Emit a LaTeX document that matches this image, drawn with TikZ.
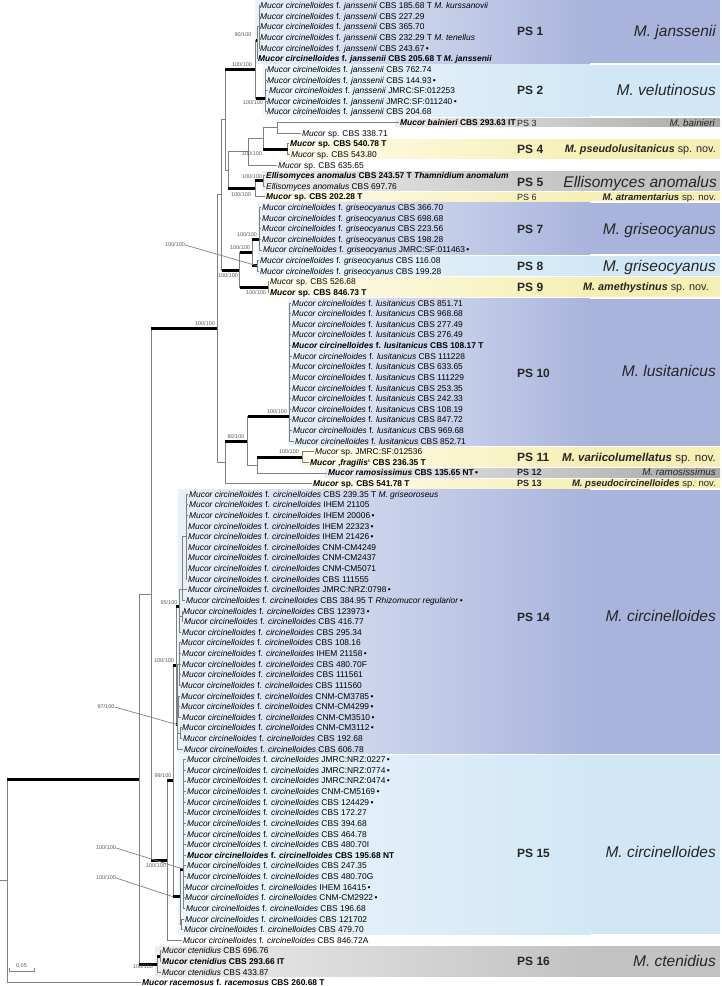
\documentclass[tikz,border=0pt]{standalone}
\usepackage{fontspec}
\setmainfont{Liberation Sans}

\definecolor{cladeDeep}{HTML}{A9B4DC}
\definecolor{cladeDeepLight}{HTML}{EAF0F9}
\definecolor{cladePale}{HTML}{D2E7F6}
\definecolor{cladePaleLight}{HTML}{EEF6FC}
\definecolor{cladeNew}{HTML}{F6EFB4}
\definecolor{cladeNewLight}{HTML}{FEFCEE}
\definecolor{cladeGrey}{HTML}{C2C2C2}
\definecolor{cladeGreyLight}{HTML}{EDEDED}
\definecolor{cladeGreyDark}{HTML}{A8A8A8}

% vertical position of taxon row #1 (row 0 at the top)
\newcommand{\ry}[1]{5.7+10.62*(#1)}
\newcommand{\taxonrow}[3]{\node[taxon] (t#1) at (#2,{\ry{#1}}) {#3};}
\newcommand{\mcj}{\textit{Mucor circinelloides} f. \textit{janssenii}}
\newcommand{\mcg}{\textit{Mucor circinelloides} f. \textit{griseocyanus}}
\newcommand{\mcl}{\textit{Mucor circinelloides} f. \textit{lusitanicus}}
\newcommand{\mcc}{\textit{Mucor circinelloides} f. \textit{circinelloides}}
\newcommand{\isodot}{\,\textbullet}
% band behind a clade: first row, last row, left x, light colour, full colour
\newcommand{\cladeband}[5]{%
  \shade[left color=#4, right color=#5] (#3,{\ry{#1}-4.5}) rectangle (590,{\ry{#2}+4.5});
  \fill[#5] (589.5,{\ry{#1}-4.5}) rectangle (720,{\ry{#2}+4.5});}
% single-row grey band darkening up to the right edge
\newcommand{\greyband}[2]{%
  \shade[left color=cladeGreyLight, right color=cladeGreyDark] (#2,{\ry{#1}-4.4}) rectangle (720,{\ry{#1}+4.4});}
% thin elbow plus thick supported stem
\newcommand{\stem}[2]{\draw[branch] (#1) |- (#2); \draw[strong] (#1 |- #2) -- (#2);}

\begin{document}
\begin{tikzpicture}[x=1pt, y=-1pt,
  taxon/.style={anchor=west, inner xsep=1pt, inner ysep=0pt, text height=6pt, text depth=0pt, font=\fontsize{8.4}{10}\selectfont},
  branch/.style={draw=black!50, line width=0.9pt},
  strong/.style={draw=black, line width=3pt},
  supp/.style={inner sep=0pt, text=black!65, font=\fontsize{5.5}{6}\selectfont},
  callout/.style={draw=black!50, line width=0.7pt},
  pslabel/.style={anchor=west, inner sep=0pt, text height=8.6pt, text depth=0pt, text=black!85, font=\bfseries\fontsize{12}{14}\selectfont},
  pssmall/.style={anchor=west, inner sep=0pt, text height=6.4pt, text depth=0pt, text=black!85, font=\fontsize{9}{10}\selectfont},
  spbig/.style={anchor=east, inner sep=0pt, text height=11.1pt, text depth=0pt, text=black!85, font=\itshape\fontsize{15.5}{18}\selectfont},
  spnov/.style={anchor=east, inner sep=0pt, text height=7.7pt, text depth=0pt, text=black!85, font=\fontsize{10.8}{12}\selectfont}]

\useasboundingbox (0,0) rectangle (721,986);

% Clade bands
\shade[left color=cladeDeepLight, right color=cladeDeep] (255,0) rectangle (590,{\ry{5}+4.5});
\fill[cladeDeep] (589.5,0) rectangle (720,{\ry{5}+4.5});
\cladeband{6}{10}{263}{cladePaleLight}{cladePale}
\greyband{11}{395}
\cladeband{13}{14}{285}{cladeNewLight}{cladeNew}
\cladeband{16}{17}{262}{cladeGreyLight}{cladeGrey}
\cladeband{18}{18}{262}{cladeNewLight}{cladeNew}
\cladeband{19}{23}{258}{cladeDeepLight}{cladeDeep}
\cladeband{24}{25}{256}{cladePaleLight}{cladePale}
\cladeband{26}{27}{266}{cladeNewLight}{cladeNew}
\cladeband{28}{41}{288}{cladeDeepLight}{cladeDeep}
\cladeband{42}{43}{300}{cladeNewLight}{cladeNew}
\greyband{44}{325}
\cladeband{45}{45}{310}{cladeNewLight}{cladeNew}
\cladeband{46}{70}{178}{cladeDeepLight}{cladeDeep}
\cladeband{71}{87}{178}{cladePaleLight}{cladePale}
\cladeband{89}{91}{155}{cladeGreyLight}{cladeGrey}

% Band labels
\node[pslabel] (ps1) at (517,31) {PS 1};
\node[spbig] (sp1) at (716,31) {M. janssenii};
\node[pslabel] (ps2) at (517,90) {PS 2};
\node[spbig] (sp2) at (716,90) {M. velutinosus};
\node[pssmall] (ps3) at (517,123) {PS 3};
\node[spnov, font=\itshape\fontsize{9.8}{11}\selectfont, text height=7pt] (sp3) at (715,123) {M. bainieri};
\node[pslabel] (ps4) at (517,149) {PS 4};
\node[spnov] (sp4) at (716,149) {\textbf{\textit{M. pseudolusitanicus}} sp. nov.};
\node[pslabel] (ps5) at (517,182) {PS 5};
\node[spbig] (sp5) at (717,182) {Ellisomyces anomalus};
\node[pssmall] (ps6) at (517,197) {PS 6};
\node[spnov, font=\fontsize{9.6}{11}\selectfont, text height=6.9pt] (sp6) at (716,197) {\textbf{\textit{M. atramentarius}} sp. nov.};
\node[pslabel] (ps7) at (517,229) {PS 7};
\node[spbig] (sp7) at (716,229) {M. griseocyanus};
\node[pslabel] (ps8) at (517,266) {PS 8};
\node[spbig] (sp8) at (716,266) {M. griseocyanus};
\node[pslabel] (ps9) at (517,287) {PS 9};
\node[spnov] (sp9) at (709,287) {\textbf{\textit{M. amethystinus}} sp. nov.};
\node[pslabel] (ps10) at (517,373) {PS 10};
\node[spbig] (sp10) at (716,371) {M. lusitanicus};
\node[pslabel] (ps11) at (517,457) {PS 11};
\node[spnov, font=\fontsize{11.5}{13}\selectfont, text height=8.2pt] (sp11) at (716,457) {\textbf{\textit{M. variicolumellatus}} sp. nov.};
\node[pssmall, font=\bfseries\fontsize{9}{10}\selectfont] (ps12) at (517,472) {PS 12};
\node[spnov, font=\itshape\fontsize{9.8}{11}\selectfont, text height=7pt] (sp12) at (716,472) {M. ramosissimus};
\node[pssmall, font=\bfseries\fontsize{9}{10}\selectfont] (ps13) at (517,483) {PS 13};
\node[spnov, font=\fontsize{9.5}{11}\selectfont, text height=6.8pt] (sp13) at (716,483) {\textbf{\textit{M. pseudocircinelloides}} sp. nov.};
\node[pslabel] (ps14) at (517,617) {PS 14};
\node[spbig] (sp14) at (716,616) {M. circinelloides};
\node[pslabel] (ps15) at (517,853) {PS 15};
\node[spbig] (sp15) at (716,852) {M. circinelloides};
\node[pslabel] (ps16) at (517,961) {PS 16};
\node[spbig] (sp16) at (716,961) {M. ctenidius};

% Taxa
\taxonrow{0}{259}{\mcj{} CBS 185.68 T \textit{M. kurssanovii}}
\taxonrow{1}{259}{\mcj{} CBS 227.29}
\taxonrow{2}{259}{\mcj{} CBS 365.70}
\taxonrow{3}{259}{\mcj{} CBS 232.29 T \textit{M. tenellus}}
\taxonrow{4}{259}{\mcj{} CBS 243.67\isodot}
\taxonrow{5}{257}{\bfseries\mcj{} CBS 205.68 T \textit{M. janssenii}}
\taxonrow{6}{266}{\mcj{} CBS 762.74}
\taxonrow{7}{266}{\mcj{} CBS 144.93\isodot}
\taxonrow{8}{268}{\mcj{} JMRC:SF:012253}
\taxonrow{9}{266}{\mcj{} JMRC:SF:011240\isodot}
\taxonrow{10}{266}{\mcj{} CBS 204.68}
\taxonrow{11}{399}{\bfseries\textit{Mucor bainieri} CBS 293.63 IT}
\taxonrow{12}{301}{\textit{Mucor} sp. CBS 338.71}
\taxonrow{13}{289}{\bfseries\textit{Mucor} sp. CBS 540.78 T}
\taxonrow{14}{290}{\textit{Mucor} sp. CBS 543.80}
\taxonrow{15}{277}{\textit{Mucor} sp. CBS 635.65}
\taxonrow{16}{265}{\bfseries\textit{Ellisomyces anomalus} CBS 243.57 T \textit{Thamnidium anomalum}}
\taxonrow{17}{265}{\textit{Ellisomyces anomalus} CBS 697.76}
\taxonrow{18}{265}{\bfseries\textit{Mucor} sp. CBS 202.28 T}
\taxonrow{19}{261}{\mcg{} CBS 366.70}
\taxonrow{20}{261}{\mcg{} CBS 698.68}
\taxonrow{21}{261}{\mcg{} CBS 223.56}
\taxonrow{22}{261}{\mcg{} CBS 198.28}
\taxonrow{23}{262}{\mcg{} JMRC:SF:011463\isodot}
\taxonrow{24}{259}{\mcg{} CBS 116.08}
\taxonrow{25}{259}{\mcg{} CBS 199.28}
\taxonrow{26}{269}{\textit{Mucor} sp. CBS 526.68}
\taxonrow{27}{269}{\bfseries\textit{Mucor} sp. CBS 846.73 T}
\taxonrow{28}{291}{\mcl{} CBS 851.71}
\taxonrow{29}{291}{\mcl{} CBS 968.68}
\taxonrow{30}{291}{\mcl{} CBS 277.49}
\taxonrow{31}{291}{\mcl{} CBS 276.49}
\taxonrow{32}{291}{\bfseries\mcl{} CBS 108.17 T}
\taxonrow{33}{292}{\mcl{} CBS 111228}
\taxonrow{34}{291}{\mcl{} CBS 633.65}
\taxonrow{35}{291}{\mcl{} CBS 111229}
\taxonrow{36}{291}{\mcl{} CBS 253.35}
\taxonrow{37}{291}{\mcl{} CBS 242.33}
\taxonrow{38}{291}{\mcl{} CBS 108.19}
\taxonrow{39}{291}{\mcl{} CBS 847.72}
\taxonrow{40}{292}{\mcl{} CBS 969.68}
\taxonrow{41}{294}{\mcl{} CBS 852.71}
\taxonrow{42}{314}{\textit{Mucor} sp. JMRC:SF:012536}
\taxonrow{43}{309}{\bfseries\textit{Mucor} ‚\textit{fragilis}‘ CBS 236.35 T}
\taxonrow{44}{327}{\bfseries\textit{Mucor ramosissimus} CBS 135.65 NT\isodot}
\taxonrow{45}{312}{\bfseries\textit{Mucor} sp. CBS 541.78 T}
\taxonrow{46}{188}{\mcc{} CBS 239.35 T \textit{M. griseoroseus}}
\taxonrow{47}{188}{\mcc{} IHEM 21105}
\taxonrow{48}{188}{\mcc{} IHEM 20006\isodot}
\taxonrow{49}{187}{\mcc{} IHEM 22323\isodot}
\taxonrow{50}{187}{\mcc{} IHEM 21426\isodot}
\taxonrow{51}{187}{\mcc{} CNM-CM4249}
\taxonrow{52}{187}{\mcc{} CNM-CM2437}
\taxonrow{53}{187}{\mcc{} CNM-CM5071}
\taxonrow{54}{187}{\mcc{} CBS 111555}
\taxonrow{55}{187}{\mcc{} JMRC:NRZ:0798\isodot}
\taxonrow{56}{185}{\mcc{} CBS 384.95 T \textit{Rhizomucor regularior}\isodot}
\taxonrow{57}{182}{\mcc{} CBS 123973\isodot}
\taxonrow{58}{183}{\mcc{} CBS 416.77}
\taxonrow{59}{181}{\mcc{} CBS 295.34}
\taxonrow{60}{180}{\mcc{} CBS 108.16}
\taxonrow{61}{181}{\mcc{} IHEM 21158\isodot}
\taxonrow{62}{181}{\mcc{} CBS 480.70F}
\taxonrow{63}{181}{\mcc{} CBS 111561}
\taxonrow{64}{180}{\mcc{} CBS 111560}
\taxonrow{65}{180}{\mcc{} CNM-CM3785\isodot}
\taxonrow{66}{180}{\mcc{} CNM-CM4299\isodot}
\taxonrow{67}{181}{\mcc{} CNM-CM3510\isodot}
\taxonrow{68}{181}{\mcc{} CNM-CM3112\isodot}
\taxonrow{69}{182}{\mcc{} CBS 192.68}
\taxonrow{70}{183}{\mcc{} CBS 606.78}
\taxonrow{71}{186}{\mcc{} JMRC:NRZ:0227\isodot}
\taxonrow{72}{186}{\mcc{} JMRC:NRZ:0774\isodot}
\taxonrow{73}{186}{\mcc{} JMRC:NRZ:0474\isodot}
\taxonrow{74}{186}{\mcc{} CNM-CM5169\isodot}
\taxonrow{75}{186}{\mcc{} CBS 124429\isodot}
\taxonrow{76}{186}{\mcc{} CBS 172.27}
\taxonrow{77}{186}{\mcc{} CBS 394.68}
\taxonrow{78}{186}{\mcc{} CBS 464.78}
\taxonrow{79}{186}{\mcc{} CBS 480.70I}
\taxonrow{80}{186}{\bfseries\mcc{} CBS 195.68 NT}
\taxonrow{81}{186}{\mcc{} CBS 247.35}
\taxonrow{82}{186}{\mcc{} CBS 480.70G}
\taxonrow{83}{184}{\mcc{} IHEM 16415\isodot}
\taxonrow{84}{184}{\mcc{} CNM-CM2922\isodot}
\taxonrow{85}{185}{\mcc{} CBS 196.68}
\taxonrow{86}{184}{\mcc{} CBS 121702}
\taxonrow{87}{183}{\mcc{} CBS 479.70}
\taxonrow{88}{182}{\mcc{} CBS 846.72A}
\taxonrow{89}{161}{\textit{Mucor ctenidius} CBS 696.76}
\taxonrow{90}{161}{\bfseries\textit{Mucor ctenidius} CBS 293.66 IT}
\taxonrow{91}{161}{\textit{Mucor ctenidius} CBS 433.87}
\taxonrow{92}{141}{\bfseries\textit{Mucor racemosus} f. \textit{racemosus} CBS 260.68 T}

% Internal nodes
\coordinate (nJa) at (259.5,{\ry{2}});
\coordinate (nPS1) at (257.5,{\ry{3.3}});
\coordinate (nPS2) at (265.5,{\ry{8.7}});
\coordinate (n256) at (255.5,{\ry{6}});
\coordinate (n277) at (277,{\ry{11.5}});
\coordinate (nPS4) at (287.5,{\ry{13.5}});
\coordinate (n263) at (263,{\ry{12.5}});
\coordinate (n248) at (248,{\ry{13.75}});
\coordinate (nEa) at (263.5,{\ry{16.5}});
\coordinate (nEll) at (255,{\ry{17.25}});
\coordinate (n228) at (228,{\ry{15.5}});
\coordinate (n225) at (225,{\ry{10.75}});
\coordinate (nPS7) at (259.5,{\ry{22}});
\coordinate (nPS8) at (257.5,{\ry{24.5}});
\coordinate (nG78) at (252,{\ry{23.25}});
\coordinate (nPS9) at (268,{\ry{26.5}});
\coordinate (nG) at (239.5,{\ry{24.9}});
\coordinate (n222) at (221.5,{\ry{17.8}});
\coordinate (nPS10) at (289.5,{\ry{38.7}});
\coordinate (nPS11) at (302,{\ry{42.5}});
\coordinate (nL2) at (257,{\ry{43.25}});
\coordinate (nL1) at (247.5,{\ry{41}});
\coordinate (nL) at (225,{\ry{43}});
\coordinate (n217) at (217,{\ry{30.4}});
\coordinate (nP) at (186,{\ry{50}});
\coordinate (nA1) at (182.5,{\ry{55}});
\coordinate (nA2) at (182,{\ry{57.5}});
\coordinate (nA) at (179.5,{\ry{56.6}});
\coordinate (nB1) at (179.5,{\ry{62}});
\coordinate (nB2) at (178.5,{\ry{66}});
\coordinate (nB3) at (180.5,{\ry{68.5}});
\coordinate (nB) at (177.5,{\ry{67.7}});
\coordinate (nPS14) at (176,{\ry{62.15}});
\coordinate (nC1) at (183.5,{\ry{81.3}});
\coordinate (nC2) at (181,{\ry{86.5}});
\coordinate (nPS15) at (180,{\ry{83.9}});
\coordinate (n173) at (173,{\ry{73}});
\coordinate (n167) at (167,{\ry{80.5}});
\coordinate (n151) at (151,{\ry{55.45}});
\coordinate (nCt1) at (160,{\ry{89.5}});
\coordinate (nCt) at (157,{\ry{90.25}});
\coordinate (n139) at (139,{\ry{72.85}});
\coordinate (nRoot) at (7,{\ry{82.4}});

% Branches: root and backbone
\draw[branch] (0,{\ry{82.4}}) -- (nRoot);
\stem{nRoot}{n139}
\draw[branch] (nRoot) |- (t92.west);
\draw[branch] (n139) |- (n151);
\stem{n139}{nCt}
\stem{nCt}{nCt1}
\draw[branch] (nCt1) |- (t89.west) (nCt1) |- (t90.west) (nCt) |- (t91.west);
\stem{n151}{n217}
\stem{n151}{n167}

% Branches: PS 1 to PS 9
\draw[branch] (n217) |- (n222) (n217) |- (nL) (n222) |- (n225) (n225) |- (n228);
\stem{n225}{n256}
\stem{n256}{nPS1}
\stem{n256}{nPS2}
\draw[branch] (nPS1) |- (nJa) (nPS1) |- (t5.west)
  (nJa) |- (t0.west) (nJa) |- (t1.west) (nJa) |- (t2.west) (nJa) |- (t3.west) (nJa) |- (t4.west);
\draw[branch] (nPS2) |- (t6.west) (nPS2) |- (t7.west) (nPS2) |- (t8.west) (nPS2) |- (t9.west) (nPS2) |- (t10.west);
\draw[branch] (n228) |- (n248) (n248) |- (n263) (n248) |- (t15.west) (n263) |- (n277)
  (n277) |- (t11.west) (n277) |- (t12.west) (nPS4) |- (t13.west) (nPS4) |- (t14.west);
\stem{n263}{nPS4}
\stem{n228}{nEll}
\stem{nEll}{nEa}
\draw[branch] (nEa) |- (t16.west) (nEa) |- (t17.west) (nEll) |- (t18.west);
\stem{n222}{nG}
\stem{nG}{nG78}
\stem{nG}{nPS9}
\stem{nG78}{nPS7}
\stem{nG78}{nPS8}
\draw[branch] (nPS7) |- (t19.west) (nPS7) |- (t20.west) (nPS7) |- (t21.west) (nPS7) |- (t22.west) (nPS7) |- (t23.west)
  (nPS8) |- (t24.west) (nPS8) |- (t25.west) (nPS9) |- (t26.west) (nPS9) |- (t27.west);

% Branches: PS 10 to PS 13
\stem{nL}{nL1}
\draw[branch] (nL) |- (t45.west) (nL1) |- (nL2) (nL2) |- (t44.west);
\stem{nL1}{nPS10}
\stem{nL2}{nPS11}
\draw[branch] (nPS11) |- (t42.west) (nPS11) |- (t43.west);
\draw[branch] (nPS10) |- (t28.west) (nPS10) |- (t29.west) (nPS10) |- (t30.west) (nPS10) |- (t31.west)
  (nPS10) |- (t32.west) (nPS10) |- (t33.west) (nPS10) |- (t34.west) (nPS10) |- (t35.west)
  (nPS10) |- (t36.west) (nPS10) |- (t37.west) (nPS10) |- (t38.west) (nPS10) |- (t39.west)
  (nPS10) |- (t40.west) (nPS10) |- (t41.west);

% Branches: PS 14 and PS 15
\stem{n167}{n173}
\draw[branch] (n167) |- (t88.west);
\stem{n173}{nPS14}
\stem{n173}{nPS15}
\stem{nPS14}{nA}
\stem{nPS14}{nB}
\draw[branch] (nA) |- (nA1) (nA) |- (nA2) (nA) |- (t59.west) (nA1) |- (nP) (nA1) |- (t55.west) (nA1) |- (t56.west)
  (nA2) |- (t57.west) (nA2) |- (t58.west);
\draw[branch] (nP) |- (t46.west) (nP) |- (t47.west) (nP) |- (t48.west) (nP) |- (t49.west) (nP) |- (t50.west)
  (nP) |- (t51.west) (nP) |- (t52.west) (nP) |- (t53.west) (nP) |- (t54.west);
\draw[branch] (nB) |- (nB1) (nB) |- (nB2) (nB) |- (nB3) (nB) |- (t70.west)
  (nB1) |- (t60.west) (nB1) |- (t61.west) (nB1) |- (t62.west) (nB1) |- (t63.west) (nB1) |- (t64.west)
  (nB2) |- (t65.west) (nB2) |- (t66.west) (nB2) |- (t67.west) (nB3) |- (t68.west) (nB3) |- (t69.west);
\stem{nPS15}{nC1}
\draw[branch] (nPS15) |- (nC2) (nC2) |- (t86.west) (nC2) |- (t87.west);
\draw[branch] (nC1) |- (t71.west) (nC1) |- (t72.west) (nC1) |- (t73.west) (nC1) |- (t74.west) (nC1) |- (t75.west)
  (nC1) |- (t76.west) (nC1) |- (t77.west) (nC1) |- (t78.west) (nC1) |- (t79.west) (nC1) |- (t80.west)
  (nC1) |- (t81.west) (nC1) |- (t82.west) (nC1) |- (t83.west) (nC1) |- (t84.west) (nC1) |- (t85.west);

% Support values
\node[supp] (sPS1) at (243,35) {90/100};
\node[supp] (sPS12) at (242,65) {100/100};
\node[supp] (sPS2) at (253,103) {100/100};
\node[supp] (sPS4) at (252,154) {100/100};
\node[supp] (sEa) at (252,177) {100/100};
\node[supp] (sEll) at (241,195) {100/100};
\node[supp] (sPS7) at (247,235) {100/100};
\node[supp] (sG78) at (240,248) {100/100};
\node[supp] (sG) at (228,276) {100/100};
\node[supp] (sPS9) at (256,293) {100/100};
\node[supp] (s217) at (205,324) {100/100};
\node[supp] (sL1) at (236,437) {80/100};
\node[supp] (sPS10) at (277,412) {100/100};
\node[supp] (sPS11) at (289,452) {100/100};
\node[supp] (sA) at (169,603) {95/100};
\node[supp] (sPS14) at (164,661) {100/100};
\node[supp] (s173) at (163,776) {99/100};
\node[supp] (s167) at (156,866) {100/100};
\node[supp] (sCt) at (143,967) {100/100};
% support values set apart, with leader lines
\node[supp] (cPS8) at (175,245) {100/100};
\node[supp] (cB) at (106,707) {97/100};
\node[supp] (cC1) at (106,848) {100/100};
\node[supp] (cPS15) at (106,878) {100/100};
\draw[callout] (cPS8.east) -- (nPS8);
\draw[callout] (cB.east) -- (nB);
\draw[callout] (cC1.east) -- (nC1);
\draw[callout] (cPS15.east) -- (n173 |- nPS15);

% Scale bar
\draw[branch, line width=0.6pt] (9,968) -- (9,971.5) -- (34,971.5) -- (34,968);
\node[supp] (scale) at (21.5,966) {0.05};
\end{tikzpicture}
\end{document}
